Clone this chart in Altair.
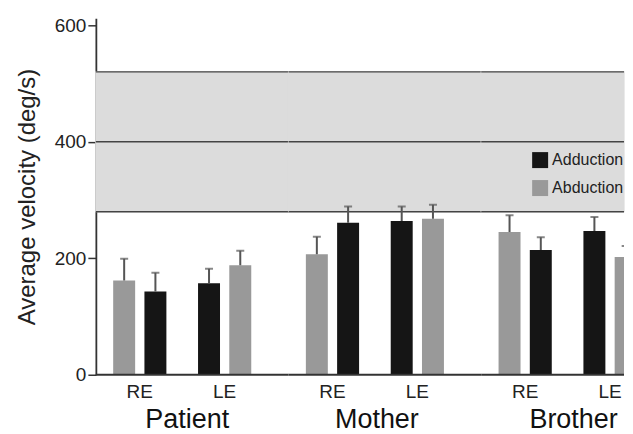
import altair as alt
import pandas as pd

# ---- data ----
groups = ["Patient", "Patient", "Mother", "Mother", "Brother", "Brother"]
eyes = ["RE", "LE", "RE", "LE", "RE", "LE"]
adduction_mean = [143, 157, 261, 264, 214, 247]
adduction_sd = [32, 25, 28, 25, 22, 24]
abduction_mean = [162, 188, 207, 268, 245, 202]
abduction_sd = [37, 25, 30, 24, 29, 19]
# normal range band (mean and limits)
norm_low = 280
norm_mean = 400
norm_high = 520

rows = []
for g, e, am, asd, bm, bsd in zip(groups, eyes, adduction_mean, adduction_sd,
                                  abduction_mean, abduction_sd):
    # order within a pair: RE -> Abduction first, LE -> Adduction first
    rows.append(dict(group=g, eye=e, movement="Adduction", mean=am, sd=asd,
                     slot="b" if e == "RE" else "a"))
    rows.append(dict(group=g, eye=e, movement="Abduction", mean=bm, sd=bsd,
                     slot="a" if e == "RE" else "b"))
df = pd.DataFrame(rows)
df["low"] = norm_low
df["nmean"] = norm_mean
df["high"] = norm_high

FONT = "Liberation Sans"
HEIGHT = 357

yscale = alt.Scale(domain=[0, 612], nice=False)
yaxis = alt.Axis(values=[0, 200, 400, 600], title="Average velocity (deg/s)",
                 titleFontSize=24, titleFontWeight="normal", titleColor="#222",
                 titleFont=FONT, titlePadding=14.5, labelFontSize=19, labelFont=FONT,
                 labelColor="#222", labelPadding=2, tickSize=8, tickColor="#333",
                 tickWidth=1.5, domainColor="#333", domainWidth=1.8, grid=False)

legend = alt.Legend(title=None, orient="none", legendX=437, legendY=134,
                    symbolType="square", symbolSize=256, symbolStrokeWidth=0,
                    symbolOpacity=1, labelFontSize=16, labelFont=FONT,
                    labelColor="#222", labelOffset=4, rowPadding=12, padding=0)
cscale = alt.Scale(domain=["Adduction", "Abduction"], range=["#151515", "#999999"])


def panel(g, width, po, al, tx, first):
    ya = yaxis if first else None
    xenc = alt.X("eye:N", sort=["RE", "LE"],
                 scale=alt.Scale(paddingInner=0.6706, paddingOuter=po, align=al),
                 axis=alt.Axis(title=g, titleFontSize=27, titleFont=FONT,
                               titleFontWeight="normal", titleColor="#111",
                               titlePadding=5, titleX=tx, ticks=False, domain=False,
                               labelAngle=0, labelFontSize=19, labelFont=FONT,
                               labelColor="#222", labelPadding=8))
    xoff = alt.XOffset("slot:N", sort=["a", "b"],
                       scale=alt.Scale(paddingInner=0.297, paddingOuter=0,
                                       range=[-12.65, 40.65]))
    base = alt.Chart(df).transform_filter(alt.datum.group == g)
    one = base.transform_filter((alt.datum.eye == "RE") &
                                (alt.datum.movement == "Adduction"))
    band = one.mark_rect(color="#dcdcdc", stroke="#dcdcdc", strokeWidth=1.2).encode(
        y=alt.Y("low:Q", scale=yscale, axis=ya), y2="high:Q")
    band_lines = one.transform_fold(["low", "nmean", "high"], as_=["k", "v"]).mark_rule(
        color="#444", strokeWidth=1.4).encode(y=alt.Y("v:Q", scale=yscale, axis=ya))
    baseline = one.transform_calculate(zero="0").mark_rule(
        color="#333", strokeWidth=1.8).encode(y=alt.Y("zero:Q", scale=yscale, axis=ya))
    bars = base.mark_bar(clip=True).encode(
        x=xenc, xOffset=xoff, y=alt.Y("mean:Q", scale=yscale, axis=ya),
        color=alt.Color("movement:N", scale=cscale, legend=legend if first else None))
    calc = base.transform_calculate(top="datum.mean + datum.sd")
    err = calc.mark_rule(color="#555", strokeWidth=2, clip=True).encode(
        x=xenc, xOffset=xoff, y=alt.Y("mean:Q", scale=yscale, axis=ya), y2="top:Q")
    caps = calc.mark_tick(color="#555", thickness=2, size=8, orient="horizontal",
                          clip=True).encode(
        x=xenc, xOffset=xoff, y=alt.Y("top:Q", scale=yscale, axis=ya))
    return alt.layer(band, band_lines, bars, err, caps, baseline).properties(
        width=width, height=HEIGHT)


chart = alt.hconcat(
    panel("Patient", 193, 0.4706, 0.375, 91, True),
    panel("Mother", 193, 0.4706, 0.375, 88, False),
    panel("Brother", 143, 0.1765, 1.0, 92, False),
    spacing=0, bounds="flush",
).resolve_scale(x="independent", xOffset="independent").properties(
    padding={"left": 7, "top": 8, "right": 0, "bottom": 0}
).configure_view(stroke=None).configure_concat(spacing=0)

chart.save("out.html", embed_options={"renderer": "svg", "actions": False})
